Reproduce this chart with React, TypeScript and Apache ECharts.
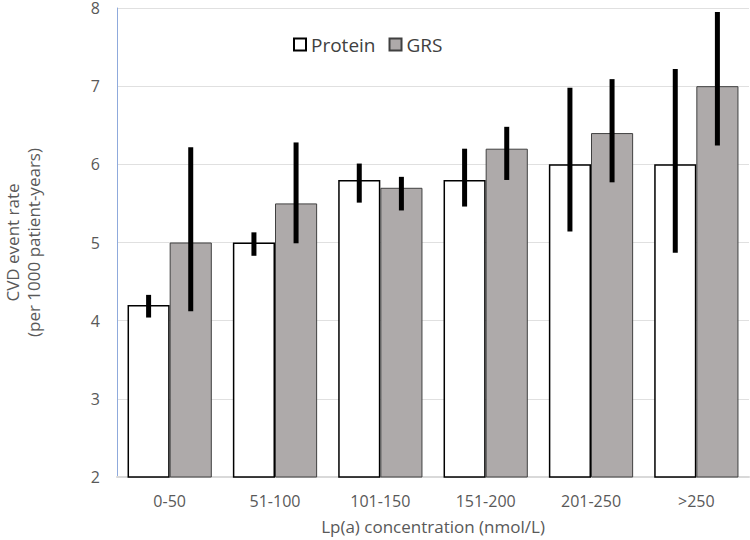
import React, { useEffect, useRef } from "react";
import * as echarts from "echarts";

const categories = ["0-50", "51-100", "101-150", "151-200", "201-250", ">250"];
const protein = [4.2, 5.0, 5.8, 5.8, 6.0, 6.0];
const grs = [5.0, 5.5, 5.7, 6.2, 6.4, 7.0];
const proteinLow = [4.04, 4.83, 5.51, 5.46, 5.14, 4.87];
const proteinHigh = [4.33, 5.13, 6.01, 6.2, 6.98, 7.22];
const grsLow = [4.12, 4.99, 5.41, 5.8, 5.77, 6.24];
const grsHigh = [6.22, 6.28, 5.84, 6.48, 7.09, 7.95];
const yTicks = { min: 2, max: 8, interval: 1 };

const FONT = "'Open Sans', 'Noto Sans', sans-serif";

function errorSeries(name: string, low: number[], high: number[], offset: number) {
  return {
    type: "custom",
    name,
    z: 10,
    data: categories.map((_, i) => [i, low[i], high[i]]),
    encode: { x: 0, y: [1, 2] },
    renderItem: (params: any, api: any) => {
      const i = api.value(0);
      const p1 = api.coord([i, api.value(1)]);
      const p2 = api.coord([i, api.value(2)]);
      const band = api.size([1, 0])[0];
      const x = p1[0] + offset * band;
      return {
        type: "line",
        shape: { x1: x, y1: p1[1], x2: x, y2: p2[1] },
        style: { stroke: "#000", lineWidth: 5 },
      };
    },
  };
}

export default function App() {
  const ref = useRef<HTMLDivElement>(null);
  useEffect(() => {
    const chart = echarts.init(ref.current!, null, { renderer: "svg" });
    chart.setOption({
      animation: false,
      textStyle: { fontFamily: FONT },
      grid: { left: 117, right: 1, top: 8, bottom: 63, outerBoundsMode: "none", containLabel: false },
      legend: {
        data: ["Protein", "GRS"],
        left: 288,
        top: 30,
        itemWidth: 12,
        itemHeight: 12,
        itemGap: 13,
        icon: "rect",
        textStyle: { fontSize: 19, color: "#404040", fontFamily: FONT },
      },
      xAxis: {
        type: "category",
        data: categories,
        axisTick: { show: false },
        axisLine: { lineStyle: { color: "#D9D9D9", width: 2 } },
        axisLabel: { color: "#595959", fontSize: 16, margin: 16 },
        name: "Lp(a) concentration (nmol/L)",
        nameLocation: "middle",
        nameGap: 41,
        nameTextStyle: { color: "#595959", fontSize: 17 },
      },
      yAxis: {
        type: "value",
        min: yTicks.min,
        max: yTicks.max,
        interval: yTicks.interval,
        axisLine: { show: true, lineStyle: { color: "#8FAADC", width: 1 } },
        axisTick: { show: false },
        splitLine: { lineStyle: { color: "#E0E0E0", width: 1 } },
        axisLabel: { color: "#595959", fontSize: 16, margin: 17 },
        name: "CVD event rate\n(per 1000 patient-years)",
        nameLocation: "middle",
        nameRotate: 90,
        nameGap: 73,
        nameTextStyle: { color: "#595959", fontSize: 17, lineHeight: 21 },
      },
      series: [
        {
          type: "bar",
          name: "Protein",
          data: protein,
          barGap: "0%",
          barCategoryGap: "20%",
          itemStyle: { color: "#FFFFFF", borderColor: "#000000", borderWidth: 1.5 },
        },
        {
          type: "bar",
          name: "GRS",
          data: grs,
          itemStyle: { color: "#AEAAAA", borderColor: "#404040", borderWidth: 1 },
        },
        errorSeries("ProteinErr", proteinLow, proteinHigh, -0.2),
        errorSeries("GRSErr", grsLow, grsHigh, 0.2),
      ],
    });
    return () => chart.dispose();
  }, []);
  return (
    <div
      ref={ref}
      style={{ position: "fixed", left: 0, top: 0, width: 750, height: 540, background: "#fff" }}
    />
  );
}
